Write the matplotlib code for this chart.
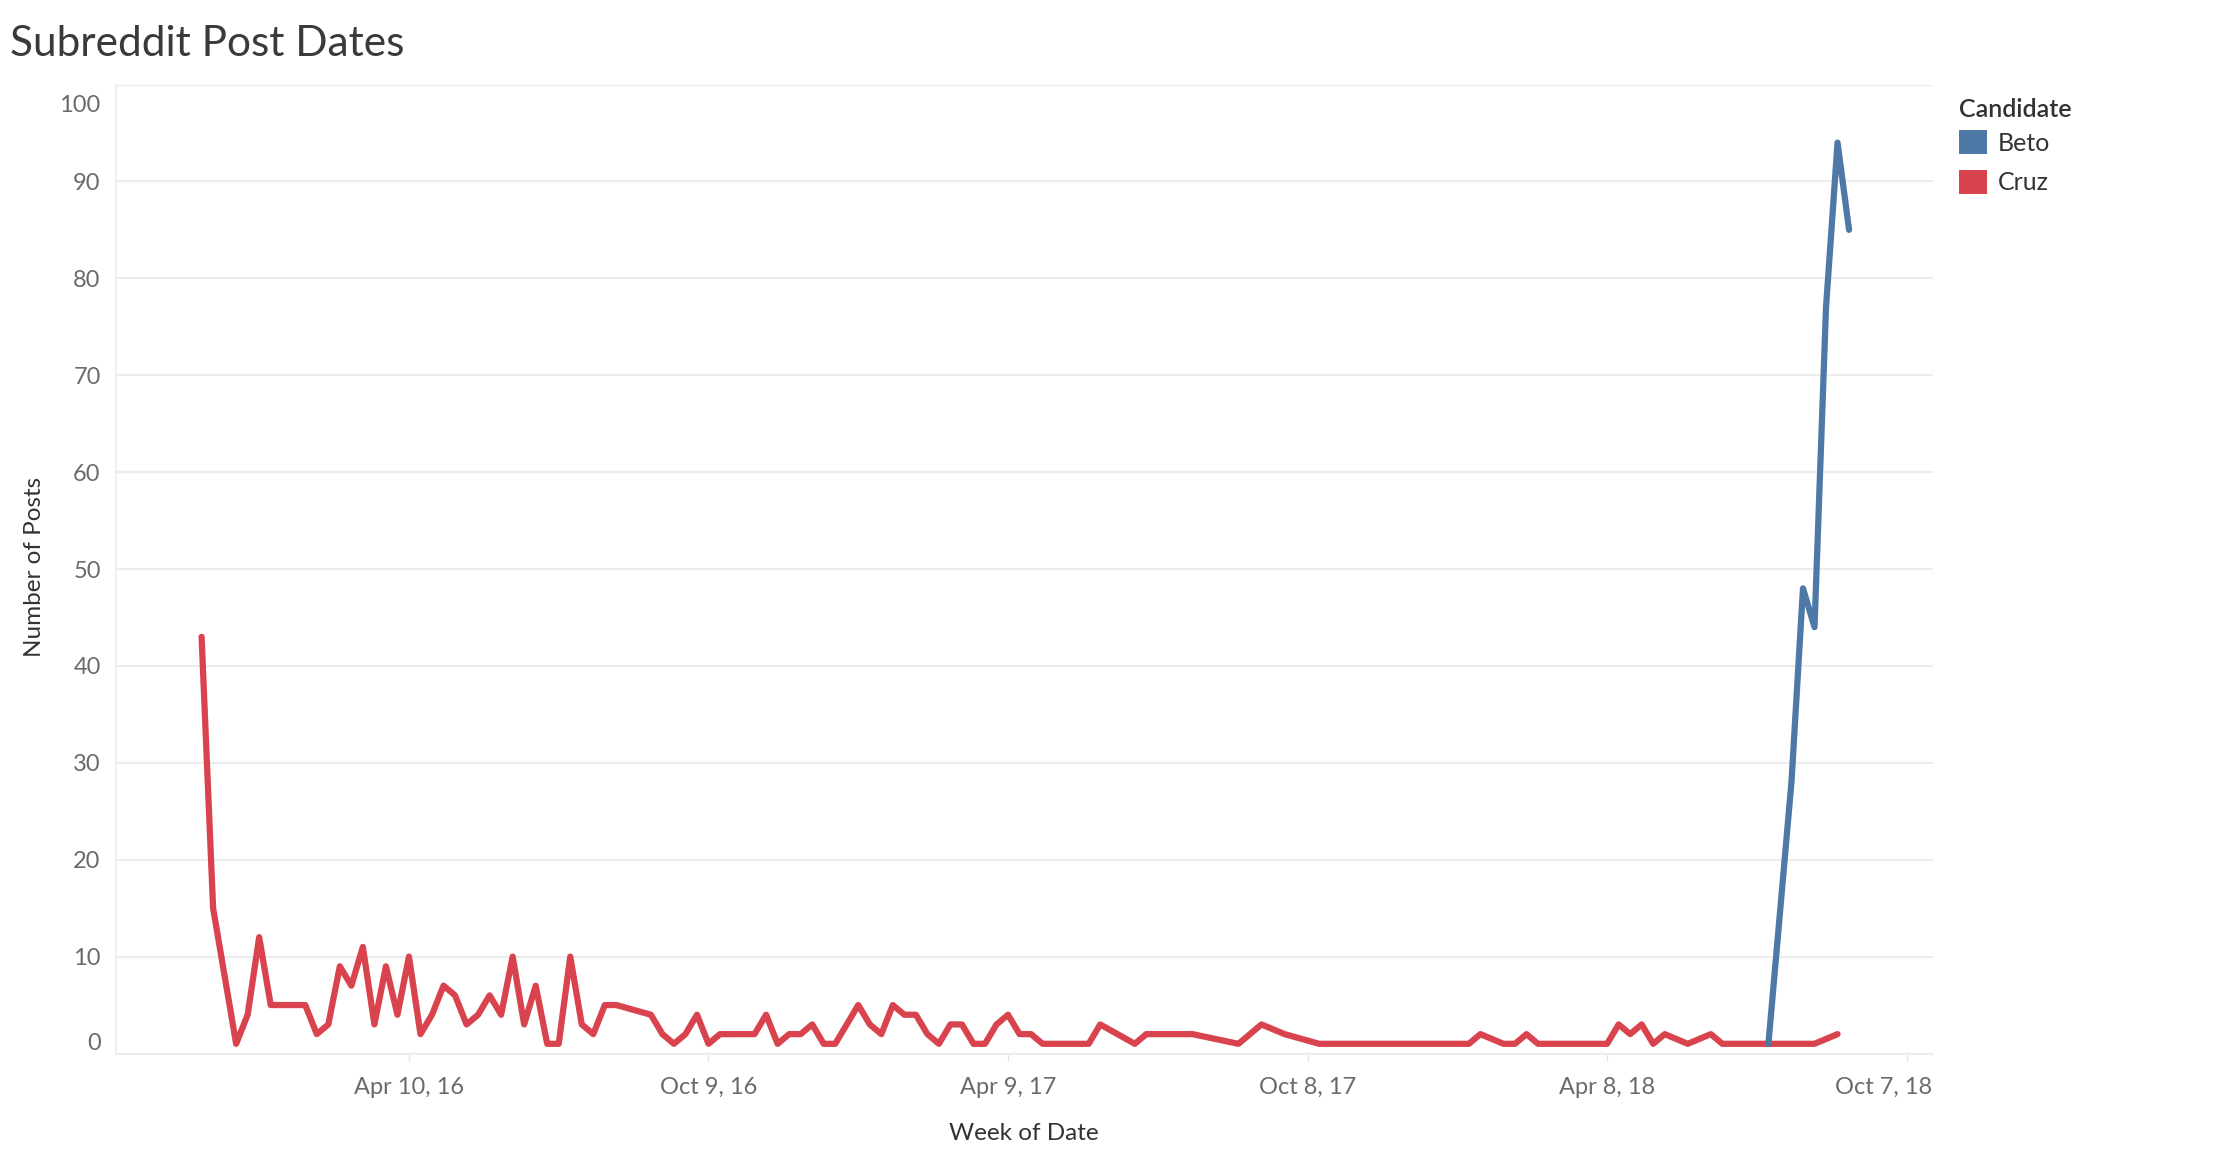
import matplotlib
matplotlib.use("Agg")
import matplotlib.pyplot as plt
import matplotlib.transforms as mtrans
from matplotlib.patches import Patch
import numpy as np
import pandas as pd

# ---------------- data ----------------
first_week = "2015-12-06"   # week of date (Sunday) for week index 0

cruz_week = [
    0, 1, 2, 3, 4, 5, 6, 7, 8, 9, 10, 11, 12, 13, 14, 15, 16, 17, 18, 19,
    20, 21, 22, 23, 24, 25, 26, 27, 28, 29, 30, 31, 32, 33, 34, 35, 36, 39, 40, 41,
    42, 43, 44, 45, 46, 47, 48, 49, 50, 51, 52, 53, 54, 55, 56, 57, 58, 59, 60, 61,
    62, 63, 64, 65, 66, 67, 68, 69, 70, 71, 72, 73, 74, 75, 76, 77, 78, 81, 82, 83,
    84, 85, 86, 90, 91, 92, 94, 97, 98, 99, 100, 101, 102, 103, 104, 105, 106, 107, 108, 109,
    110, 111, 113, 114, 115, 116, 117, 118, 119, 120, 121, 122, 123, 124, 125, 126, 127, 129, 131, 132,
    133, 134, 135, 136, 137, 138, 139, 140, 142]
cruz_posts = [
    43, 15, 8, 1, 4, 12, 5, 5, 5, 5, 2, 3, 9, 7, 11, 3, 9, 4, 10, 2,
    4, 7, 6, 3, 4, 6, 4, 10, 3, 7, 1, 1, 10, 3, 2, 5, 5, 4, 2, 1,
    2, 4, 1, 2, 2, 2, 2, 4, 1, 2, 2, 3, 1, 1, 3, 5, 3, 2, 5, 4,
    4, 2, 1, 3, 3, 1, 1, 3, 4, 2, 2, 1, 1, 1, 1, 1, 3, 1, 2, 2,
    2, 2, 2, 1, 2, 3, 2, 1, 1, 1, 1, 1, 1, 1, 1, 1, 1, 1, 1, 1,
    1, 2, 1, 1, 2, 1, 1, 1, 1, 1, 1, 1, 3, 2, 3, 1, 2, 1, 2, 1,
    1, 1, 1, 1, 1, 1, 1, 1, 2]

beto_week = [136, 138, 139, 140, 141, 142, 143]
beto_posts = [1, 28, 48, 44, 77, 94, 85]

candidates = ["Beto", "Cruz"]
candidate_colors = ["#4e79a7", "#d9434d"]

x_tick_dates = ["2016-04-10", "2016-10-09", "2017-04-09",
                "2017-10-08", "2018-04-08", "2018-10-07"]
x_tick_labels = ["Apr 10, 16", "Oct 9, 16", "Apr 9, 17",
                 "Oct 8, 17", "Apr 8, 18", "Oct 7, 18"]
y_ticks = [0, 10, 20, 30, 40, 50, 60, 70, 80, 90, 100]
x_range = ["2015-10-15", "2018-10-23"]
y_range = [0, 100]

assert len(cruz_week) == len(cruz_posts)

# ---------------- figure ----------------
FONT = ["Lato", "DejaVu Sans"]
plt.rcParams["font.family"] = FONT

W, H = 2234, 1160
fig = plt.figure(figsize=(W / 100, H / 100), dpi=100)
fig.patch.set_facecolor("white")

left, right, top, bottom = 116, 1933, 84.5, 1053.5
ax = fig.add_axes([left / W, 1 - bottom / H, (right - left) / W, (bottom - top) / H])

start = pd.Timestamp(first_week)
cruz_dates = start + pd.to_timedelta(np.array(cruz_week) * 7, unit="D")
beto_dates = start + pd.to_timedelta(np.array(beto_week) * 7, unit="D")

line_kw = dict(lw=4.5, solid_capstyle="round", solid_joinstyle="round")
ax.plot(cruz_dates, cruz_posts, color=candidate_colors[1], zorder=3, **line_kw)
ax.plot(beto_dates, beto_posts, color=candidate_colors[0], zorder=4, **line_kw)

ax.set_xlim(pd.Timestamp(x_range[0]), pd.Timestamp(x_range[1]))
ax.set_ylim(*y_range)

grid_c = "#ededed"
ax.set_yticks(y_ticks)
ax.set_yticklabels([str(v) for v in y_ticks])
ax.yaxis.grid(True, color=grid_c, lw=1.5, zorder=0)
ax.xaxis.grid(False)
ax.set_axisbelow(True)

ax.set_xticks([pd.Timestamp(d) for d in x_tick_dates])
ax.set_xticklabels(x_tick_labels)

for s in ["top", "right"]:
    ax.spines[s].set_visible(False)
ax.spines["left"].set_color(grid_c)
ax.spines["left"].set_linewidth(1.2)
ax.spines["bottom"].set_color(grid_c)
ax.spines["bottom"].set_linewidth(1.5)

ax.tick_params(axis="y", length=0, pad=11, labelsize=17, labelcolor="#6a6a6a")
ax.tick_params(axis="x", length=5, width=1, color="#e4e4e4", pad=12,
               labelsize=17, labelcolor="#6a6a6a")

# Tableau keeps end labels inside the pane
ylabels = ax.get_yticklabels()
ylabels[0].set_verticalalignment("bottom")
ylabels[-1].set_verticalalignment("top")
ylabels[-1].set_transform(ylabels[-1].get_transform() +
                          mtrans.ScaledTranslation(0, -10 / 100, fig.dpi_scale_trans))
xlabels = ax.get_xticklabels()
xlabels[-1].set_transform(xlabels[-1].get_transform() +
                          mtrans.ScaledTranslation(-23 / 100, 0, fig.dpi_scale_trans))

ax.set_xlabel("Week of Date", fontsize=17.5, color="#333333")
ax.xaxis.set_label_coords((1024 - left) / (right - left), (bottom - 1134) / (bottom - top))
ax.xaxis.label.set_verticalalignment("center")
ax.set_ylabel("Number of Posts", fontsize=17.5, color="#333333")
ax.yaxis.set_label_coords((35 - left) / (right - left), (bottom - 567) / (bottom - top))
ax.yaxis.label.set_verticalalignment("center")

fig.text(10 / W, 1 - 56 / H, "Subreddit Post Dates", fontsize=30.5,
         fontweight="normal", color="#3a3a3a", ha="left", va="baseline")

handles = [Patch(facecolor=c, edgecolor="none", label=n)
           for n, c in zip(candidates, candidate_colors)]
leg = fig.legend(handles=handles, title="Candidate", loc="upper left",
                 bbox_to_anchor=(1959 / W, 1 - 98 / H), frameon=False,
                 fontsize=18, title_fontsize=18, alignment="left",
                 handlelength=1.12, handleheight=1.12, handletextpad=0.45,
                 labelspacing=0.6, borderpad=0, borderaxespad=0)
leg._legend_box.sep = 6.5   # tighter gap between legend title and first entry
leg.get_title().set_color("#333333")
leg.get_title().set_fontweight("semibold")
for t in leg.get_texts():
    t.set_color("#333333")

fig.savefig("out.png", dpi=100, facecolor="white")
